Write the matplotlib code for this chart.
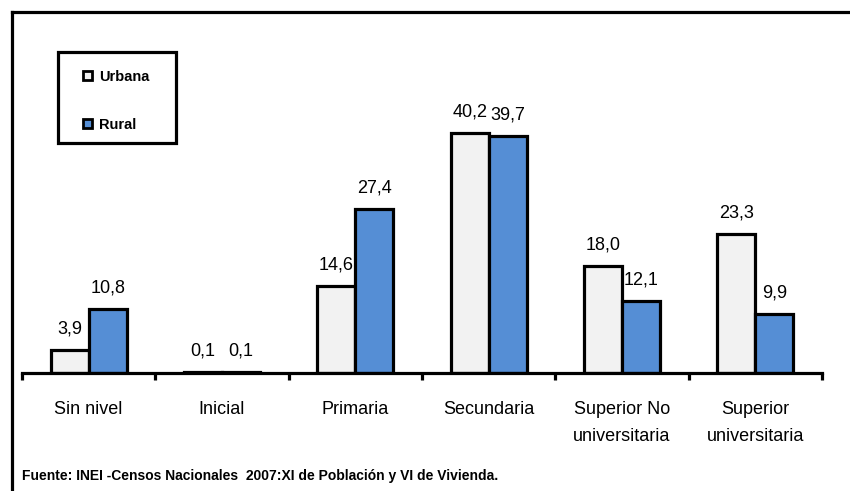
import matplotlib.pyplot as plt
import numpy as np
from matplotlib.lines import Line2D
from matplotlib.patches import Patch, Rectangle

categories = ["Sin nivel", "Inicial", "Primaria", "Secundaria",
              "Superior No\nuniversitaria", "Superior\nuniversitaria"]
urbana = [3.9, 0.1, 14.6, 40.2, 18.0, 23.3]
rural = [10.8, 0.1, 27.4, 39.7, 12.1, 9.9]
series_names = ["Urbana", "Rural"]
fuente = "Fuente: INEI -Censos Nacionales  2007:XI de Población y VI de Vivienda."

font = ["Liberation Sans", "DejaVu Sans"]
plt.rcParams["font.family"] = font

W, H = 850, 491
fig = plt.figure(figsize=(8.5, 4.91), dpi=100)
ax = fig.add_axes([22 / W, 118 / H, 800 / W, 333 / H])

x = np.arange(len(categories))
w = 0.285
c_urb = "#f2f2f2"
c_rur = "#558ed5"
b1 = ax.bar(x - w / 2, urbana, w, color=c_urb, edgecolor="black", linewidth=2.3)
b2 = ax.bar(x + w / 2, rural, w, color=c_rur, edgecolor="black", linewidth=2.3)

for bars, vals in ((b1, urbana), (b2, rural)):
    for b, v in zip(bars, vals):
        ax.annotate(f"{v:.1f}".replace(".", ","), (b.get_x() + b.get_width() / 2, v),
                    xytext=(0, 9), textcoords="offset points",
                    ha="center", va="bottom", fontsize=13)

ax.set_xlim(-0.5, len(categories) - 0.5)
ax.set_ylim(0, 333 / (240 / 40.2))
for s in ["top", "right", "left"]:
    ax.spines[s].set_visible(False)
ax.spines["bottom"].set_linewidth(2.3)
ax.set_yticks([])
ax.set_xticks(np.arange(len(categories) + 1) - 0.5)
ax.set_xticklabels([])
ax.tick_params(axis="x", which="major", length=5, width=2.3, direction="out")
ax.set_xticks(x, minor=True)
ax.set_xticklabels(categories, minor=True, fontsize=13, va="top", linespacing=1.75)
ax.tick_params(axis="x", which="minor", length=0, pad=20)

# legend box
fig.add_artist(Rectangle((58 / W, 1 - 143 / H), 118 / W, 91 / H, transform=fig.transFigure,
                         facecolor="white", edgecolor="black", linewidth=2.3))
handles = [Patch(facecolor=c_urb, edgecolor="black", linewidth=2),
           Patch(facecolor=c_rur, edgecolor="black", linewidth=2)]
leg = fig.legend(handles, series_names, loc="upper left",
                 bbox_to_anchor=(83 / W, 1 - 70 / H),
                 handlelength=0.6, handleheight=0.6, handletextpad=0.5,
                 labelspacing=2.3, borderpad=0, borderaxespad=0, frameon=False,
                 prop={"weight": "bold", "size": 10.5, "family": font})

# outer frame lines (left and top)
fig.add_artist(Line2D([12 / W, 12 / W], [0, 1 - 12 / H], color="black", lw=2.3))
fig.add_artist(Line2D([12 / W, 1], [1 - 12 / H, 1 - 12 / H], color="black", lw=2.3))

fig.text(22 / W, 1 - 476 / H, fuente, fontsize=10, weight="bold", va="center")

fig.savefig("out.png", dpi=100)
